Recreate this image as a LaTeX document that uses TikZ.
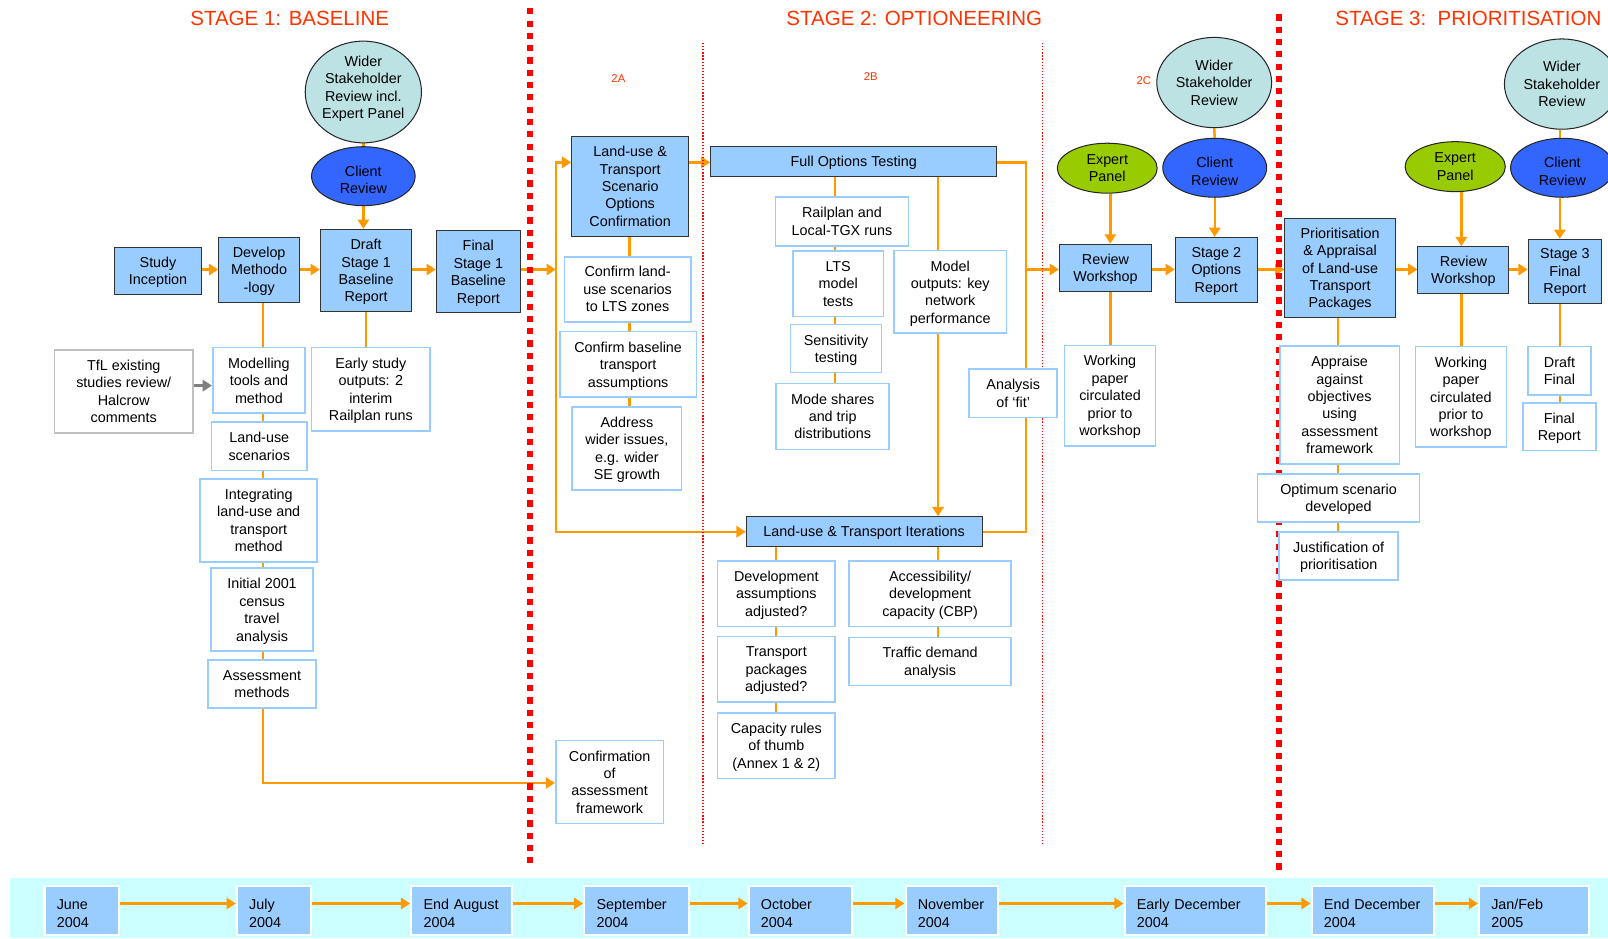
\documentclass[tikz,border=0pt]{standalone}
\usepackage{fontspec}
\setmainfont{Liberation Sans}
\usetikzlibrary{shapes.geometric,arrows.meta,calc}
\definecolor{boxblue}{HTML}{99CCFF}
\definecolor{lineor}{HTML}{FF9900}
\definecolor{tealell}{HTML}{BCE2E4}
\definecolor{clientblue}{HTML}{3366FF}
\definecolor{expgreen}{HTML}{99CC00}
\definecolor{titlered}{HTML}{FF3300}
\definecolor{dotred}{HTML}{FF0000}
\definecolor{bandcyan}{HTML}{CCFFFF}
\pgfdeclarelayer{bg}\pgfdeclarelayer{lines}\pgfdeclarelayer{dots}
\pgfsetlayers{bg,lines,dots,main}
\hyphenpenalty=10000
\newcommand{\myCliStrut}{\rule{0pt}{17pt}}
\begin{document}
\begin{tikzpicture}[x=1pt,y=-1pt,
  font=\fontsize{14}{17}\selectfont,
  sz/.style 2 args={minimum width=#1pt,minimum height=#2pt},
  up/.style={execute at end node={\rule[-9pt]{0pt}{0pt}}},
  mb0/.style={draw=black!80,fill=boxblue,line width=1pt,inner sep=0pt,align=center},
  mb1/.style={mb0,text depth=-1pt},
  mb/.style={mb0,text depth=-6.5pt},
  tb/.style={draw=boxblue,fill=white,line width=1.6pt,inner sep=0pt,align=center,text depth=-7.5pt},
  gb/.style={draw=black!25,fill=white,line width=1.6pt,inner sep=0pt,align=center,text depth=-6pt},
  ell/.style={ellipse,draw=black!85,line width=1pt,inner sep=0pt,align=center},
  wsr/.style={ell,fill=tealell},
  crv/.style={ell,fill=clientblue},
  epn/.style={ell,fill=expgreen},
  link/.style={draw=lineor,line width=2.4pt},
  arr/.style={link,-{Triangle[length=9pt,width=11pt]}},
  darr/.style={link,{Triangle[length=9pt,width=11pt]}-{Triangle[length=9pt,width=11pt]}},
  garr/.style={draw=black!50,line width=2.4pt,-{Triangle[length=9pt,width=11pt]}},
  ttl/.style={text=titlered,font=\fontsize{20}{24}\selectfont,inner sep=0pt,anchor=base},
  sub/.style={text=titlered,font=\fontsize{11}{13}\selectfont,inner sep=0pt},
  thickdot/.style={draw=dotred,line width=5.5pt,dash pattern=on 6pt off 6pt},
  thindot/.style={draw=dotred,line width=1.1pt,dash pattern=on 1.2pt off 1.8pt},
  datebox/.style={draw=white,fill=boxblue,line width=2pt,align=left,inner xsep=12pt,inner ysep=0pt,minimum height=48pt,execute at begin node={\rule{0pt}{15.5pt}}},
  tarr/.style={draw=lineor,line width=2.6pt,-{Triangle[length=9pt,width=11pt]}}
]
\useasboundingbox (0,0) rectangle (1568,915);
\clip (0,0) rectangle (1568,915);

% titles
\node[ttl] (t1) at (282.5,24.8) {STAGE 1: BASELINE};
\node[ttl] (t2) at (891.5,24.8) {STAGE 2: OPTIONEERING};
\node[ttl,anchor=base west] (t3) at (1302,24.8) {STAGE 3:\ \ PRIORITISATION};
\node[sub] (l2a) at (603,76.4) {2A};
\node[sub] (l2b) at (849,74.8) {2B};
\node[sub] (l2c) at (1115.3,79) {2C};

% helper coordinates
\coordinate (rowA) at (0,262.8);
\coordinate (rowF) at (0,158.3);
\coordinate (rowI) at (0,518.5);
\coordinate (rowG) at (0,376);
\coordinate (rowC) at (0,763.5);
\coordinate (rowT) at (0,881);
\coordinate (colA) at (256.5,0);
\coordinate (vL) at (542,0);
\coordinate (vR) at (1000.3,0);
\coordinate (c2A) at (614,0);
\coordinate (colB) at (814.3,0);
\coordinate (colM) at (914.7,0);
\coordinate (colD) at (756.8,0);
\coordinate (colE2) at (1082.7,0);
\coordinate (colP) at (1304.5,0);
\coordinate (colE3) at (1425,0);
\coordinate (colF) at (1521,0);

% stage 1
\node[wsr,up,sz={112}{88}] (wsr1) at (354.3,89.7) {Wider\\Stakeholder\\Review incl.\\Expert Panel};
\node[crv,sz={101}{57.5}] (cr1) at (354.3,171.8) {\myCliStrut Client\\Review};
\node[mb,sz={84.6}{46.2}] (si) at (154.1,264.3) {Study\\Inception};
\node[mb,sz={79}{63}] (dm) at (252.7,263) {Develop\\Methodo\\-logy};
\node[mb,sz={89.3}{80.3}] (d1) at (357,263.8) {Draft\\Stage 1\\Baseline\\Report};
\node[mb,sz={82}{80}] (f1) at (466.4,265) {Final\\Stage 1\\Baseline\\Report};
\node[gb,sz={135}{81}] (tfl) at (120.7,381.5) {TfL existing\\studies review/\\Halcrow\\comments};
\node[tb,sz={90}{64}] (mt) at (252.5,371) {Modelling\\tools and\\method};
\node[tb,sz={93}{47}] (lu) at (252.8,435.2) {Land-use\\scenarios};
\node[tb,sz={114}{81}] (ilt) at (252.3,507.5) {Integrating\\land-use and\\transport\\method};
\node[tb,sz={99}{81}] (ic) at (255.5,594.5) {Initial 2001\\census\\travel\\analysis};
\node[tb,sz={105.5}{46.5}] (am) at (255.5,667) {Assessment\\methods};
\node[tb,sz={115.5}{81}] (es) at (361.6,379.5) {Early study\\outputs: 2\\interim\\Railplan runs};
\node[tb,sz={105}{81}] (caf) at (594.5,762.5) {Confirmation\\of\\assessment\\framework};

% stage 2A
\node[mb,sz={114}{97}] (lts) at (614.5,181.7) {Land-use \&\\Transport\\Scenario\\Options\\Confirmation};
\node[tb,sz={123}{63.4}] (cl) at (612,282) {Confirm land-\\use scenarios\\to LTS zones};
\node[tb,sz={133}{64}] (cb) at (612.5,355.4) {Confirm baseline\\transport\\assumptions};
\node[tb,sz={106.7}{81}] (aw) at (611.3,437.2) {Address\\wider issues,\\e.g. wider\\SE growth};

% stage 2B
\node[mb1,sz={279}{29.3}] (fot) at (832.5,157.7) {Full Options Testing};
\node[tb,sz={129.7}{47.2}] (rl) at (821,216) {Railplan and\\Local-TGX runs};
\node[tb,sz={88.6}{63.7}] (lt) at (817.3,276.6) {LTS\\model\\tests};
\node[tb,sz={110}{80.6}] (mo) at (926.6,284.7) {Model\\outputs: key\\network\\performance};
\node[tb,sz={88.6}{46.8}] (st) at (815.3,340) {Sensitivity\\testing};
\node[tb,sz={110.3}{64.3}] (ms) at (812,406) {Mode shares\\and trip\\distributions};
\node[mb1,sz={230}{29.3}] (lti) at (842.6,518.5) {Land-use \& Transport Iterations};
\node[tb,sz={86}{47}] (af) at (988,383.5) {Analysis\\of ‘fit’};
\node[tb,sz={115}{64}] (da) at (757,579) {Development\\assumptions\\adjusted?};
\node[tb,sz={115}{64}] (tp) at (757,652.8) {Transport\\packages\\adjusted?};
\node[tb,sz={115}{64}] (cru) at (757,727) {Capacity rules\\of thumb\\(Annex 1 \& 2)};
\node[tb,sz={158}{64}] (ac) at (907,579) {Accessibility/\\development\\capacity (CBP)};
\node[tb,sz={158}{47}] (td) at (907,645) {Traffic demand\\analysis};

% stage 2C
\node[wsr,sz={112}{88}] (wsr2) at (1184,80.5) {Wider\\Stakeholder\\Review};
\node[crv,sz={101.3}{57.5}] (cr2) at (1184.5,163.6) {\myCliStrut Client\\Review};
\node[epn,sz={97.4}{48.7}] (ep2) at (1079.7,164) {Expert\\Panel};
\node[mb,sz={90}{46}] (rw2) at (1078,261) {Review\\Workshop};
\node[mb,sz={80}{63}] (s2r) at (1186,263) {Stage 2\\Options\\Report};
\node[tb,sz={89}{98}] (wp2) at (1082.4,385.8) {Working\\paper\\circulated\\prior to\\workshop};

% stage 3
\node[mb,sz={107.6}{96.5}] (pa) at (1306.8,261.2) {Prioritisation\\\& Appraisal\\of Land-use\\Transport\\Packages};
\node[mb,sz={88.7}{45.5}] (rw3) at (1427,263.3) {Review\\Workshop};
\node[epn,sz={97.7}{48.7}] (ep3) at (1419,162.5) {Expert\\Panel};
\node[mb,sz={71.6}{62.4}] (s3f) at (1526,264.6) {Stage 3\\Final\\Report};
\node[wsr,sz={112}{88}] (wsr3) at (1523,82) {Wider\\Stakeholder\\Review};
\node[crv,sz={101}{57.5}] (cr3) at (1523.5,163.6) {\myCliStrut Client\\Review};
\node[tb,sz={116.5}{115}] (ap) at (1306.3,395) {Appraise\\against\\objectives\\using\\assessment\\framework};
\node[tb,sz={158}{46.8}] (osd) at (1305.2,485.6) {Optimum scenario\\developed};
\node[tb,sz={116}{47}] (jp) at (1305.4,542) {Justification of\\prioritisation};
\node[tb,sz={89}{98}] (wp3) at (1424.6,387) {Working\\paper\\circulated\\prior to\\workshop};
\node[tb,sz={62}{47}] (df) at (1520.7,361.5) {Draft\\Final};
\node[tb,sz={71}{46.5}] (fr) at (1520.5,416) {Final\\Report};

% timeline
\node[datebox,text width=48.4pt] (tl1) at (79.6,888) {June\\2004};
\node[datebox,text width=48pt] (tl2) at (267,888) {July\\2004};
\node[datebox,text width=74pt] (tl3) at (450,888) {End August\\2004};
\node[datebox,text width=78pt] (tl4) at (620.7,888) {September\\2004};
\node[datebox,text width=77pt] (tl5) at (780.5,888) {October\\2004};
\node[datebox,text width=66.6pt] (tl6) at (928.3,888) {November\\2004};
\node[datebox,text width=113.6pt] (tl7) at (1165.4,888) {Early December\\2004};
\node[datebox,text width=95pt] (tl8) at (1338.5,888) {End December\\2004};
\node[datebox,text width=83pt] (tl9) at (1495.7,888) {Jan/Feb\\2005};

\begin{pgfonlayer}{lines}
% stage 1 links
\draw[link] (wsr1.south) -- (cr1.north);
\draw[arr] (cr1.south) -- (cr1.south |- d1.north);
\draw[arr] (si.east |- rowA) -- (dm.west |- rowA);
\draw[arr] (dm.east |- rowA) -- (d1.west |- rowA);
\draw[arr] (d1.east |- rowA) -- (f1.west |- rowA);
\draw[arr] (f1.east |- rowA) -- (vL |- rowA);
\draw[garr] (tfl.east |- rowG) -- (mt.west |- rowG);
\draw[link] (dm.south -| colA) -- (mt.north -| colA);
\draw[link] (mt.south -| colA) -- (lu.north -| colA);
\draw[link] (lu.south -| colA) -- (ilt.north -| colA);
\draw[link] (ilt.south -| colA) -- (ic.north -| colA);
\draw[link] (ic.south -| colA) -- (am.north -| colA);
\draw[arr] (am.south -| colA) |- (caf.west |- rowC);
\draw[link] (d1.south) -- (d1.south |- es.north);
% stage 2A
\draw[darr] (lts.west |- rowF) -- (vL |- rowF) -- (vL |- rowI) -- (lti.west |- rowI);
\draw[link] (lts.south -| c2A) -- (cl.north -| c2A);
\draw[link] (cl.south -| c2A) -- (cb.north -| c2A);
\draw[link] (cb.south -| c2A) -- (aw.north -| c2A);
\draw[arr] (lts.east |- rowF) -- (fot.west |- rowF);
% stage 2B
\draw[link] (fot.east |- rowF) -- (vR |- rowF) -- (vR |- rowI) -- (lti.east |- rowI);
\draw[arr] (vR |- rowA) -- (rw2.west |- rowA);
\draw[link] (fot.south -| colB) -- (rl.north -| colB);
\draw[link] (rl.south -| colB) -- (lt.north -| colB);
\draw[link] (lt.south -| colB) -- (st.north -| colB);
\draw[link] (st.south -| colB) -- (ms.north -| colB);
\draw[link] (fot.south -| colM) -- (mo.north -| colM);
\draw[arr] (mo.south -| colM) -- (lti.north -| colM);
\draw[link] (lti.south -| colD) -- (da.north -| colD);
\draw[link] (da.south -| colD) -- (tp.north -| colD);
\draw[link] (tp.south -| colD) -- (cru.north -| colD);
\draw[link] (lti.south -| colM) -- (ac.north -| colM);
\draw[link] (ac.south -| colM) -- (td.north -| colM);
% stage 2C
\draw[arr] (ep2.south -| colE2) -- (rw2.north -| colE2);
\draw[link] (rw2.south -| colE2) -- (wp2.north -| colE2);
\draw[link] (wsr2.south) -- (cr2.north);
\draw[arr] (cr2.south) -- (cr2.south |- s2r.north);
\draw[arr] (rw2.east |- rowA) -- (s2r.west |- rowA);
\draw[arr] (s2r.east |- rowA) -- (pa.west |- rowA);
% stage 3
\draw[arr] (pa.east |- rowA) -- (rw3.west |- rowA);
\draw[arr] (rw3.east |- rowA) -- (s3f.west |- rowA);
\draw[arr] (ep3.south -| colE3) -- (rw3.north -| colE3);
\draw[link] (rw3.south -| colE3) -- (wp3.north -| colE3);
\draw[link] (wsr3.south -| colF) -- (cr3.north -| colF);
\draw[arr] (cr3.south -| colF) -- (s3f.north -| colF);
\draw[link] (s3f.south -| colF) -- (df.north -| colF);
\draw[link] (df.south -| colF) -- (fr.north -| colF);
\draw[link] (pa.south -| colP) -- (ap.north -| colP);
\draw[link] (ap.south -| colP) -- (osd.north -| colP);
\draw[link] (osd.south -| colP) -- (jp.north -| colP);
% timeline
\draw[tarr] (tl1.east |- rowT) -- (tl2.west |- rowT);
\draw[tarr] (tl2.east |- rowT) -- (tl3.west |- rowT);
\draw[tarr] (tl3.east |- rowT) -- (tl4.west |- rowT);
\draw[tarr] (tl4.east |- rowT) -- (tl5.west |- rowT);
\draw[tarr] (tl5.east |- rowT) -- (tl6.west |- rowT);
\draw[tarr] (tl6.east |- rowT) -- (tl7.west |- rowT);
\draw[tarr] (tl7.east |- rowT) -- (tl8.west |- rowT);
\draw[tarr] (tl8.east |- rowT) -- (tl9.west |- rowT);
\end{pgfonlayer}

\begin{pgfonlayer}{dots}
\draw[thickdot] (517,8) -- (517,844);
\draw[thickdot] (1247.4,14) -- (1247.4,850);
\draw[thindot] (685.5,42) -- (685.5,824);
\draw[thindot] (1016.5,42) -- (1016.5,824);
\end{pgfonlayer}

\begin{pgfonlayer}{bg}
\fill[white] (0,0) rectangle (1568,915);
\fill[bandcyan] (10,856) rectangle (1568,915);
\end{pgfonlayer}
\end{tikzpicture}
\end{document}
